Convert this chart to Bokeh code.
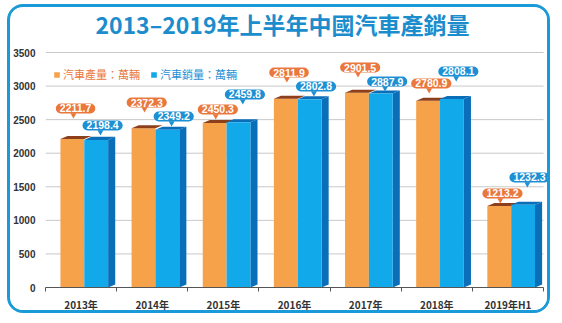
from bokeh.plotting import figure
from bokeh.models import (Range1d, FixedTicker, Label, Legend, LegendItem)
from bokeh.embed import file_html
from bokeh.resources import INLINE

# ---- data ----
years = ["2013年", "2014年", "2015年", "2016年", "2017年", "2018年", "2019年H1"]
production = [2211.7, 2372.3, 2450.3, 2811.9, 2901.5, 2780.9, 1213.2]
sales = [2198.4, 2349.2, 2459.8, 2802.8, 2887.9, 2808.1, 1232.3]
y_ticks = [0, 500, 1000, 1500, 2000, 2500, 3000, 3500]
title_text = "2013–2019年上半年中國汽車產銷量"
prod_name = "汽車產量：萬輛"
sales_name = "汽車銷量：萬輛"

# ---- styling / placement (not data) ----
prod_label_lift = [455, 383, 201, 390, 375, 258, 187]
sales_label_lift = [215, 198, 415, 191, 180, 409, 406]
ORANGE = "#f5a24a"
ORANGE_TOP = "#8c3f1a"
BLUE = "#12a9ea"
BLUE_DARK = "#0a6fb8"
CALLOUT_O = "#ea773c"
CALLOUT_B = "#1d8fd3"
TITLE_BLUE = "#1b8dcc"

n = len(years)
px_per_unit = 235 / 3500.0        # vertical scale of the value axis
Y_TOP = 3500 + 45 / px_per_unit   # frame extends up to canvas top (room for title)
X_RIGHT = n + 10 / (500 / n)      # frame extends a little right of the last category

p = figure(width=543, height=309, output_backend="svg", toolbar_location=None,
           x_range=Range1d(0, X_RIGHT), y_range=Range1d(0, Y_TOP),
           min_border_left=33, min_border_right=0, min_border_top=0, min_border_bottom=29)
p.margin = (4, 0, 0, 7)
p.styles = {"border": "3px solid #1a9ad6", "border-radius": "16px", "overflow": "hidden"}
p.outline_line_color = None
p.background_fill_color = "white"

xs = list(range(n))
o_l = [i + 0.21 for i in xs]
o_r = [i + 0.545 for i in xs]
b_l = o_r
b_r = [i + 0.88 for i in xs]
d = 0.1
dy = 45

# grid lines (only across the category span)
grid_y = [t for t in y_ticks if t > 0]
p.segment(x0=[0] * len(grid_y), x1=[n] * len(grid_y), y0=grid_y, y1=grid_y,
          line_color="#c8c8c8", line_width=1, level="underlay")

# orange face
o_face = p.quad(left=o_l, right=o_r, bottom=0, top=production, fill_color=ORANGE, line_color=None)
# orange top
p.patches(xs=[[o_l[i], o_l[i] + d, o_r[i] + d, o_r[i]] for i in xs],
          ys=[[production[i], production[i] + dy, production[i] + dy, production[i]] for i in xs],
          fill_color=ORANGE_TOP, line_color=None)
# blue side
p.patches(xs=[[b_r[i], b_r[i] + d, b_r[i] + d, b_r[i]] for i in xs],
          ys=[[0, dy, sales[i] + dy, sales[i]] for i in xs],
          fill_color=BLUE_DARK, line_color=None)
# blue top
p.patches(xs=[[b_l[i], b_l[i] + d, b_r[i] + d, b_r[i]] for i in xs],
          ys=[[sales[i], sales[i] + dy, sales[i] + dy, sales[i]] for i in xs],
          fill_color=BLUE_DARK, line_color=None)
# blue face
b_face = p.quad(left=b_l, right=b_r, bottom=0, top=sales, fill_color=BLUE, line_color=None)

# callouts
def callout(x, y, txt, color):
    p.add_layout(Label(x=x, y=y, text=txt, text_align="center", text_baseline="middle",
                       text_color="white", text_font="Liberation Sans", text_font_style="bold",
                       text_font_size="10.5px", background_fill_color=color,
                       border_radius=6, padding=(4, 1)))

tri_x, tri_y, tri_c = [], [], []
for i in xs:
    cxo = (o_l[i] + o_r[i]) / 2 + 0.045
    cyo = production[i] + prod_label_lift[i]
    cxb = (b_l[i] + b_r[i]) / 2 + 0.09
    cyb = sales[i] + sales_label_lift[i]
    tri_x += [cxo - 0.03, cxb - 0.03]
    tri_y += [cyo - 6.5 / px_per_unit, cyb - 6.5 / px_per_unit]
    tri_c += [CALLOUT_O, CALLOUT_B]
p.scatter(x=tri_x, y=tri_y, marker="inverted_triangle", size=6, fill_color=tri_c, line_color=None)
for i in xs:
    cxo = (o_l[i] + o_r[i]) / 2 + 0.045
    cxb = (b_l[i] + b_r[i]) / 2 + 0.09
    callout(cxo, production[i] + prod_label_lift[i], f"{production[i]:.1f}", CALLOUT_O)
    callout(cxb, sales[i] + sales_label_lift[i], f"{sales[i]:.1f}", CALLOUT_B)

# title (inside the extended frame)
p.add_layout(Label(x=3.33, y=3500 + 29 / px_per_unit, text=title_text, text_align="center",
                   text_baseline="middle", text_color=TITLE_BLUE, text_font="Noto Sans CJK TC",
                   text_font_style="bold", text_font_size="23px"))

# axes
p.yaxis.ticker = FixedTicker(ticks=y_ticks)
p.yaxis.axis_line_color = None
p.yaxis.major_tick_line_color = None
p.yaxis.minor_tick_line_color = None
p.yaxis.major_label_standoff = 4
p.yaxis.major_label_text_font = "Liberation Sans"
p.yaxis.major_label_text_font_style = "bold"
p.yaxis.major_label_text_font_size = "10px"
p.yaxis.major_label_text_color = "#333333"

centers = [i + 0.5 for i in xs]
p.xaxis.ticker = FixedTicker(ticks=centers, minor_ticks=list(range(n + 1)))
p.xaxis.major_label_overrides = {c: y for c, y in zip(centers, years)}
p.xaxis.bounds = (0, n)
p.xaxis.major_tick_line_color = None
p.xaxis.major_tick_out = 0
p.xaxis.major_tick_in = 0
p.xaxis.minor_tick_line_color = "#555555"
p.xaxis.minor_tick_out = 4
p.xaxis.minor_tick_in = 0
p.xaxis.axis_line_color = "#555555"
p.xaxis.major_label_standoff = 5
p.xaxis.major_label_text_font = "Noto Sans CJK TC"
p.xaxis.major_label_text_font_style = "bold"
p.xaxis.major_label_text_font_size = "10px"
p.xaxis.major_label_text_color = "#333333"

p.xgrid.grid_line_color = None
p.ygrid.grid_line_color = None

# legends
for rend, name, col, loc in [(o_face, prod_name, CALLOUT_O, (8, 205)),
                             (b_face, sales_name, CALLOUT_B, (105, 205))]:
    lg = Legend(items=[LegendItem(label=name, renderers=[rend])], location=loc,
                orientation="horizontal", glyph_width=7, glyph_height=7, label_standoff=3,
                padding=0, margin=0, border_line_color=None, background_fill_alpha=0,
                label_text_font="Noto Sans CJK TC", label_text_font_size="11px",
                label_text_color=col, label_height=10)
    p.add_layout(lg)

open("out.html", "w").write(file_html(p, INLINE))
